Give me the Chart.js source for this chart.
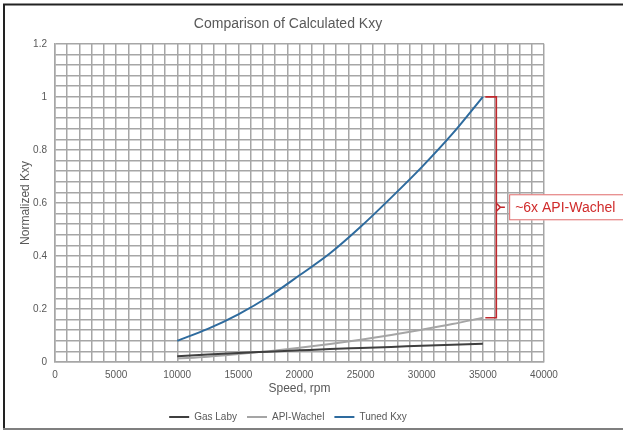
<!DOCTYPE html>
<html><head><meta charset="utf-8">
<script src="https://cdn.jsdelivr.net/npm/chart.js@4.4.1/dist/chart.umd.min.js"></script>
<style>html,body{margin:0;padding:0;background:#fff;}canvas{display:block;}</style>
</head><body>
<canvas id="c" width="623" height="432"></canvas>
<script>
// ---- data ----
const speeds    = [10000, 12500, 15000, 17500, 20000, 22500, 25000, 27500, 30000, 32500, 35000];
const gasLaby   = [0.022, 0.028, 0.034, 0.039, 0.044, 0.049, 0.053, 0.057, 0.061, 0.065, 0.069];
const apiWachel = [0.013, 0.020, 0.030, 0.041, 0.054, 0.068, 0.084, 0.102, 0.122, 0.143, 0.167];
const tunedKxy  = [0.080, 0.125, 0.180, 0.247, 0.327, 0.410, 0.510, 0.620, 0.735, 0.860, 1.000];
const seriesNames = ['Gas Laby', 'API-Wachel', 'Tuned Kxy'];
const xTickLabels = ['0', '5000', '10000', '15000', '20000', '25000', '30000', '35000', '40000'];
const yTickLabels = ['0', '0.2', '0.4', '0.6', '0.8', '1', '1.2'];
const annotationText = '~6x API-Wachel';
const bracketTopValue = 1.0;
const bracketBottomValue = 0.167;

const txt = '#595959';
const FONT = '"Liberation Sans", Arial, sans-serif';

function labelFor(list, v) {
  for (const s of list) { if (Math.abs(parseFloat(s) - v) < 1e-6) return s; }
  return '';
}

const toPts = arr => speeds.map((s, i) => ({x: s, y: arr[i]}));

const frame = {
  id: 'frame',
  beforeDraw(chart) {
    const ctx = chart.ctx;
    ctx.save();
    ctx.fillStyle = '#fff';
    ctx.fillRect(0, 0, chart.width, chart.height);
    ctx.strokeStyle = '#222';
    ctx.lineWidth = 2;
    ctx.beginPath();
    ctx.moveTo(4, 429); ctx.lineTo(4, 4.5); ctx.lineTo(chart.width, 4.5);
    ctx.stroke();
    ctx.strokeStyle = '#7f7f7f';
    ctx.beginPath();
    ctx.moveTo(3, 429); ctx.lineTo(chart.width, 429);
    ctx.stroke();
    ctx.restore();
  },
  afterLayout(chart) {
    const shift = 20;
    if (chart.titleBlock) chart.titleBlock.left += shift;
    if (chart.legend) chart.legend.left += shift;
  }
};

const bracket = {
  id: 'bracket',
  afterDraw(chart) {
    const xs = chart.scales.x, ys = chart.scales.y, ctx = chart.ctx;
    const xStub = xs.getPixelForValue(35200);
    const xBar = xs.getPixelForValue(36100);
    const xTip = xs.getPixelForValue(36800);
    const xBox = xs.getPixelForValue(37150);
    const yTop = ys.getPixelForValue(bracketTopValue);
    const yBot = ys.getPixelForValue(bracketBottomValue);
    const yMid = (yTop + yBot) / 2;
    ctx.save();
    ctx.strokeStyle = '#c0282d';
    ctx.lineWidth = 1.6;
    ctx.beginPath();
    ctx.moveTo(xStub, yTop); ctx.lineTo(xBar, yTop); ctx.lineTo(xBar, yBot); ctx.lineTo(xStub, yBot);
    ctx.stroke();
    ctx.beginPath();
    ctx.moveTo(xBar, yMid - 4); ctx.lineTo(xBar + 4, yMid); ctx.lineTo(xBar, yMid + 4);
    ctx.moveTo(xBar + 4, yMid); ctx.lineTo(xTip, yMid);
    ctx.stroke();
    // label box
    ctx.fillStyle = '#fff';
    ctx.strokeStyle = '#e06a6a';
    ctx.lineWidth = 1;
    ctx.fillRect(xBox, yMid - 13, 140, 26);
    ctx.strokeRect(xBox + 0.5, yMid - 12.5, 140, 25);
    ctx.fillStyle = '#d02c2c';
    ctx.font = '14px ' + FONT;
    ctx.textBaseline = 'middle';
    ctx.textAlign = 'left';
    ctx.fillText(annotationText, xBox + 6, yMid + 0.5);
    ctx.restore();
  }
};

new Chart(document.getElementById('c'), {
  type: 'line',
  data: {
    datasets: [
      {label: seriesNames[0], data: toPts(gasLaby), borderColor: '#3f3f3f', borderWidth: 2},
      {label: seriesNames[1], data: toPts(apiWachel), borderColor: '#a5a5a5', borderWidth: 2},
      {label: seriesNames[2], data: toPts(tunedKxy), borderColor: '#2e6b9e', borderWidth: 2}
    ]
  },
  options: {
    responsive: false,
    animation: false,
    events: [],
    elements: { point: { radius: 0 }, line: { cubicInterpolationMode: 'monotone', fill: false } },
    layout: { padding: { left: 12, right: 79, top: 0, bottom: 0 } },
    plugins: {
      tooltip: { enabled: false },
      title: {
        display: true, text: 'Comparison of Calculated Kxy', color: txt,
        font: { family: FONT, size: 14, weight: 'normal' },
        padding: { top: 16, bottom: 11 }
      },
      legend: {
        position: 'bottom',
        labels: {
          color: txt, boxWidth: 20, boxHeight: 2, padding: 10,
          font: { family: FONT, size: 10 },
          generateLabels(chart) {
            return chart.data.datasets.map((ds, i) => ({
              text: ds.label, fillStyle: ds.borderColor, strokeStyle: ds.borderColor,
              lineWidth: 0, hidden: false, datasetIndex: i, fontColor: txt
            }));
          }
        }
      }
    },
    scales: {
      x: {
        type: 'linear', min: 0, max: 40000,
        afterFit(s) { s.height = 40; },
        ticks: {
          stepSize: 1000, maxTicksLimit: 100, autoSkip: false, maxRotation: 0, minRotation: 0,
          color: txt, padding: 7, font: { family: FONT, size: 10 },
          callback: v => labelFor(xTickLabels, v)
        },
        grid: { color: '#a6a6a6', lineWidth: 1.5, drawTicks: false },
        border: { color: '#a6a6a6', width: 1.5 },
        title: { display: true, text: 'Speed, rpm', color: txt, font: { family: FONT, size: 12 }, padding: { top: 0, bottom: 6 } }
      },
      y: {
        type: 'linear', min: 0, max: 1.2,
        afterFit(s) { s.width = 43; },
        ticks: {
          stepSize: 0.04, maxTicksLimit: 100, autoSkip: false,
          color: txt, padding: 8, font: { family: FONT, size: 10 },
          callback: v => labelFor(yTickLabels, v)
        },
        grid: { color: '#a6a6a6', lineWidth: 1.5, drawTicks: false },
        border: { color: '#a6a6a6', width: 1.5 },
        title: { display: true, text: 'Normalized Kxy', color: txt, font: { family: FONT, size: 12 }, padding: { top: 6, bottom: 0 } }
      }
    }
  },
  plugins: [frame, bracket]
});
</script>
</body></html>
